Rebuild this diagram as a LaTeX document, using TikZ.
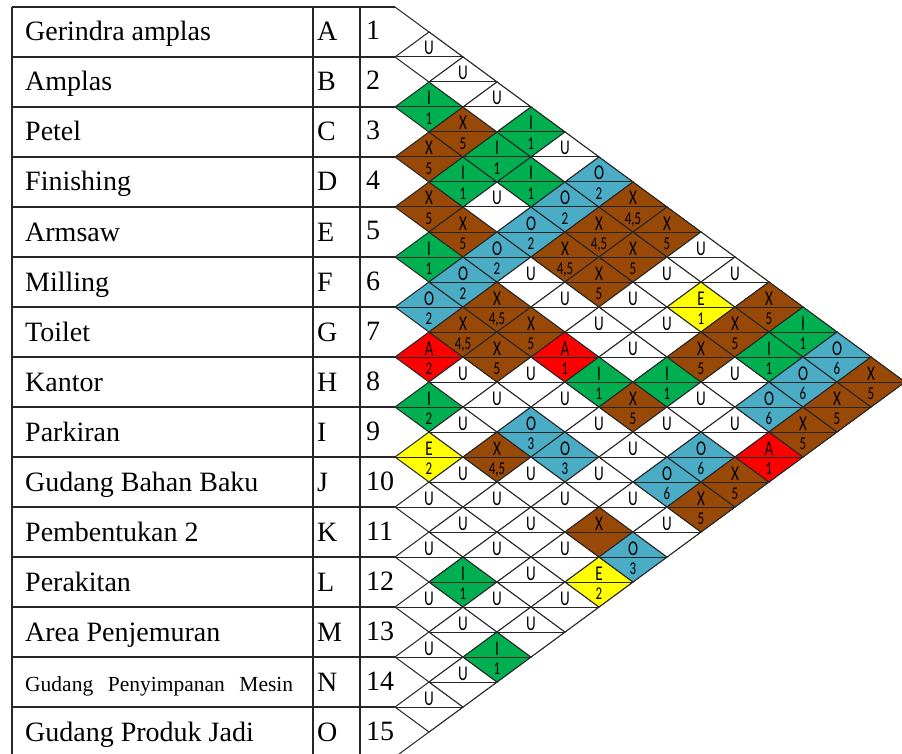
\documentclass[tikz,border=0pt]{standalone}
\usepackage{fontspec}
\setmainfont{Liberation Serif}
\newfontfamily\relfont[FakeStretch=0.72]{Carlito}
\usepackage{xcolor}
\definecolor{RelGreen}{HTML}{00B050}
\definecolor{RelBrown}{HTML}{984807}
\definecolor{RelBlue}{HTML}{4BACC6}
\definecolor{RelRed}{HTML}{FF0000}
\definecolor{RelYellow}{HTML}{FFFF00}
\definecolor{LineGrey}{HTML}{262626}
\tikzset{
  relline/.style={LineGrey, line width=1pt},
  tabline/.style={LineGrey, line width=1.3pt},
  relcode/.style={anchor=base, inner sep=0pt, font=\fontsize{21}{22}\relfont},
  relwhy/.style={anchor=base, inner sep=0pt, font=\fontsize{18}{19}\relfont},
  deptext/.style={anchor=base west, inner sep=0pt, font=\fontsize{28}{30}\selectfont},
}
\newcommand{\rel}[5]{% i, j, fill, code, reason
  \begin{scope}[shift={({395+34*(#2-#1)},{7+25*(#1+#2-1)})}]
    \filldraw[relline, fill=#3] (-34,0) -- (0,-25) -- (34,0) -- (0,25) -- cycle;
    \draw[relline] (-34,0) -- (34,0);
    \node[relcode] (code#1-#2) at (0,-2) {#4};
    \node[relwhy] (why#1-#2) at (0,17.5) {#5};
  \end{scope}
}

\begin{document}
\begin{tikzpicture}[x=1pt, y=-1pt]

\useasboundingbox (0,0) rectangle (902,754);

% Table grid
\foreach \k in {0,...,15}
  \draw[tabline] (12,{7+50*\k}) -- (395,{7+50*\k});
\draw[tabline] (12,7) -- (12,757) (313,7) -- (313,757) (360,7) -- (360,757);

% Departments
\foreach \n/\name/\c in {1/Gerindra amplas/A, 2/Amplas/B, 3/Petel/C, 4/Finishing/D,
    5/Armsaw/E, 6/Milling/F, 7/Toilet/G, 8/Kantor/H, 9/Parkiran/I,
    10/Gudang Bahan Baku/J, 11/Pembentukan 2/K, 12/Perakitan/L,
    13/Area Penjemuran/M, 15/Gudang Produk Jadi/O} {
  \node[deptext] (dept\n) at (25,{41+50*(\n-1)}) {\name};
  \node[deptext] (letter\n) at (317,{41+50*(\n-1)}) {\c};
}
\node[deptext, font=\fontsize{21.5}{23}\selectfont] (dept14) at (25,691)
  {\makebox[268pt][s]{Gudang Penyimpanan Mesin}};
\node[deptext] (letter14) at (317,691) {N};
\foreach \n in {1,...,15}
  \node[deptext] (no\n) at (366,{40+50*(\n-1)}) {\n};

% Chart outline
\draw[relline] (395,7) -- (905,382) -- (395,757);

% Column 1
\rel{1}{2}{white}{U}{}
\rel{2}{3}{RelGreen}{I}{1}
\rel{3}{4}{RelBrown}{X}{5}
\rel{4}{5}{RelBrown}{X}{5}
\rel{5}{6}{RelGreen}{I}{1}
\rel{6}{7}{RelBlue}{O}{2}
\rel{7}{8}{RelRed}{A}{2}
\rel{8}{9}{RelGreen}{I}{2}
\rel{9}{10}{RelYellow}{E}{2}
\rel{10}{11}{white}{U}{}
\rel{11}{12}{white}{U}{}
\rel{12}{13}{white}{U}{}
\rel{13}{14}{white}{U}{}
\rel{14}{15}{white}{U}{}

% Column 2
\rel{1}{3}{white}{U}{}
\rel{2}{4}{RelBrown}{X}{5}
\rel{3}{5}{RelGreen}{I}{1}
\rel{4}{6}{RelBrown}{X}{5}
\rel{5}{7}{RelBlue}{O}{2}
\rel{6}{8}{RelBrown}{X}{4,5}
\rel{7}{9}{white}{U}{}
\rel{8}{10}{white}{U}{}
\rel{9}{11}{white}{U}{}
\rel{10}{12}{white}{U}{}
\rel{11}{13}{RelGreen}{I}{1}
\rel{12}{14}{white}{U}{}
\rel{13}{15}{white}{U}{}

% Column 3
\rel{1}{4}{white}{U}{}
\rel{2}{5}{RelGreen}{I}{1}
\rel{3}{6}{white}{U}{}
\rel{4}{7}{RelBlue}{O}{2}
\rel{5}{8}{RelBrown}{X}{4,5}
\rel{6}{9}{RelBrown}{X}{5}
\rel{7}{10}{white}{U}{}
\rel{8}{11}{RelBrown}{X}{4,5}
\rel{9}{12}{white}{U}{}
\rel{10}{13}{white}{U}{}
\rel{11}{14}{white}{U}{}
\rel{12}{15}{RelGreen}{I}{1}

% Column 4
\rel{1}{5}{RelGreen}{I}{1}
\rel{2}{6}{RelGreen}{I}{1}
\rel{3}{7}{RelBlue}{O}{2}
\rel{4}{8}{white}{U}{}
\rel{5}{9}{RelBrown}{X}{5}
\rel{6}{10}{white}{U}{}
\rel{7}{11}{RelBlue}{O}{3}
\rel{8}{12}{white}{U}{}
\rel{9}{13}{white}{U}{}
\rel{10}{14}{white}{U}{}
\rel{11}{15}{white}{U}{}

% Column 5
\rel{1}{6}{white}{U}{}
\rel{2}{7}{RelBlue}{O}{2}
\rel{3}{8}{RelBrown}{X}{4,5}
\rel{4}{9}{white}{U}{}
\rel{5}{10}{RelRed}{A}{1}
\rel{6}{11}{white}{U}{}
\rel{7}{12}{RelBlue}{O}{3}
\rel{8}{13}{white}{U}{}
\rel{9}{14}{white}{U}{}
\rel{10}{15}{white}{U}{}

% Column 6
\rel{1}{7}{RelBlue}{O}{2}
\rel{2}{8}{RelBrown}{X}{4,5}
\rel{3}{9}{RelBrown}{X}{5}
\rel{4}{10}{white}{U}{}
\rel{5}{11}{RelGreen}{I}{1}
\rel{6}{12}{white}{U}{}
\rel{7}{13}{white}{U}{}
\rel{8}{14}{RelBrown}{X}{}
\rel{9}{15}{RelYellow}{E}{2}

% Column 7
\rel{1}{8}{RelBrown}{X}{4,5}
\rel{2}{9}{RelBrown}{X}{5}
\rel{3}{10}{white}{U}{}
\rel{4}{11}{white}{U}{}
\rel{5}{12}{RelBrown}{X}{5}
\rel{6}{13}{white}{U}{}
\rel{7}{14}{white}{U}{}
\rel{8}{15}{RelBlue}{O}{3}

% Column 8
\rel{1}{9}{RelBrown}{X}{5}
\rel{2}{10}{white}{U}{}
\rel{3}{11}{white}{U}{}
\rel{4}{12}{RelGreen}{I}{1}
\rel{5}{13}{white}{U}{}
\rel{6}{14}{RelBlue}{O}{6}
\rel{7}{15}{white}{U}{}

% Column 9
\rel{1}{10}{white}{U}{}
\rel{2}{11}{RelYellow}{E}{1}
\rel{3}{12}{RelBrown}{X}{5}
\rel{4}{13}{white}{U}{}
\rel{5}{14}{RelBlue}{O}{6}
\rel{6}{15}{RelBrown}{X}{5}

% Column 10
\rel{1}{11}{white}{U}{}
\rel{2}{12}{RelBrown}{X}{5}
\rel{3}{13}{white}{U}{}
\rel{4}{14}{white}{U}{}
\rel{5}{15}{RelBrown}{X}{5}

% Columns 11-14
\rel{1}{12}{RelBrown}{X}{5}
\rel{2}{13}{RelGreen}{I}{1}
\rel{3}{14}{RelBlue}{O}{6}
\rel{4}{15}{RelRed}{A}{1}
\rel{1}{13}{RelGreen}{I}{1}
\rel{2}{14}{RelBlue}{O}{6}
\rel{3}{15}{RelBrown}{X}{5}
\rel{1}{14}{RelBlue}{O}{6}
\rel{2}{15}{RelBrown}{X}{5}
\rel{1}{15}{RelBrown}{X}{5}

\end{tikzpicture}
\end{document}
